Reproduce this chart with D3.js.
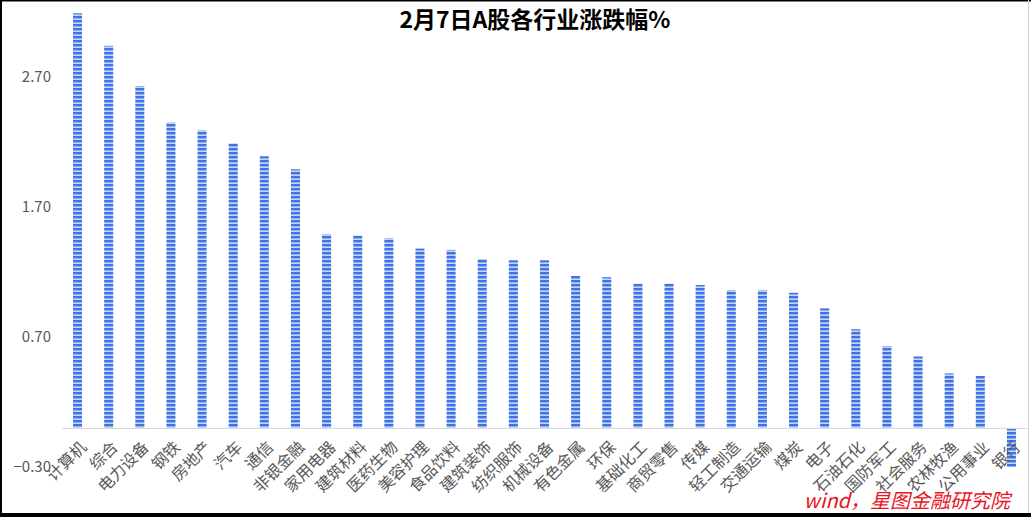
<!DOCTYPE html>
<html><head><meta charset="utf-8">
<script src="https://cdn.jsdelivr.net/npm/d3@7/dist/d3.min.js"></script>
<style>body{margin:0;background:#fff}svg{display:block}text{font-family:"Noto Sans CJK SC","Microsoft YaHei",sans-serif}</style>
</head><body>
<script>
const categories = ["计算机","综合","电力设备","钢铁","房地产","汽车","通信","非银金融","家用电器","建筑材料","医药生物","美容护理","食品饮料","建筑装饰","纺织服饰","机械设备","有色金属","环保","基础化工","商贸零售","传媒","轻工制造","交通运输","煤炭","电子","石油石化","国防军工","社会服务","农林牧渔","公用事业","银行"];
const values = [3.19,2.94,2.63,2.35,2.29,2.19,2.09,1.99,1.49,1.48,1.46,1.38,1.37,1.30,1.29,1.29,1.17,1.16,1.11,1.11,1.10,1.06,1.06,1.04,0.92,0.76,0.63,0.55,0.42,0.40,-0.30];
const yTicks = [-0.30,0.70,1.70,2.70];
const title = "2月7日A股各行业涨跌幅%";
const source = "wind，星图金融研究院";

const W=1031,H=517;
const svg=d3.select("body").append("svg").attr("width",W).attr("height",H);
const defs=svg.append("defs");
const pat=defs.append("pattern").attr("id","stripe").attr("patternUnits","userSpaceOnUse").attr("width",10).attr("height",4);
pat.append("rect").attr("width",10).attr("height",4).attr("fill","#c3d6f6");
pat.append("rect").attr("width",10).attr("height",2.4).attr("fill","#3f72e6");

const x=d3.scaleBand().domain(categories).range([62,1027]).paddingInner(0.71).paddingOuter(0.355);
const y=d3.scaleLinear().domain([-0.3,3.2]).range([467,12]);

// bars
svg.append("g").selectAll("rect").data(values).join("rect")
  .attr("x",(d,i)=>x(categories[i]))
  .attr("width",x.bandwidth())
  .attr("y",d=>y(Math.max(0,d)))
  .attr("height",d=>Math.abs(y(d)-y(0)))
  .attr("fill","url(#stripe)");

// zero axis line
svg.append("line").attr("x1",62).attr("x2",1027).attr("y1",Math.round(y(0))+0.5).attr("y2",Math.round(y(0))+0.5)
  .attr("stroke","#d9d9d9").attr("stroke-width",1);

// y axis labels
const yAxis=d3.axisLeft(y).tickValues(yTicks).tickFormat(d3.format(".2f")).tickSize(0).tickPadding(0);
const ya=svg.append("g").attr("transform","translate(51,0)").call(yAxis);
ya.select(".domain").remove();
ya.selectAll("text").attr("fill","#595959").style("font-size","15px");

// x labels
const xAxis=d3.axisBottom(x).tickSize(0).tickPadding(0);
const xa=svg.append("g").attr("transform",`translate(0,${y(0)})`).call(xAxis);
xa.select(".domain").remove();
xa.selectAll("text").attr("fill","#595959").style("font-size","16px")
  .attr("text-anchor","end").attr("dy",null).attr("y",0)
  .attr("transform","translate(7,17) rotate(-45)")
  .attr("dominant-baseline","middle");

// title
svg.append("text").attr("x",535).attr("y",28).attr("text-anchor","middle")
  .style("font-size","23px").style("font-weight","bold").attr("fill","#000").text(title);

// source
svg.append("text").attr("x",1010).attr("y",508).attr("text-anchor","end")
  .style("font-size","20px").style("font-style","italic").attr("fill","#e8141e").text(source);

// border
svg.append("line").attr("x1",0).attr("x2",W).attr("y1",0.5).attr("y2",0.5).attr("stroke","#000").attr("stroke-width",2);
svg.append("line").attr("x1",1).attr("x2",1).attr("y1",0).attr("y2",H).attr("stroke","#000").attr("stroke-width",2);
svg.append("rect").attr("x",0).attr("y",513).attr("width",W).attr("height",4).attr("fill","#000");
svg.append("line").attr("x1",1028.5).attr("x2",1028.5).attr("y1",0).attr("y2",513).attr("stroke","#d0d0d0");
</script>
</body></html>
